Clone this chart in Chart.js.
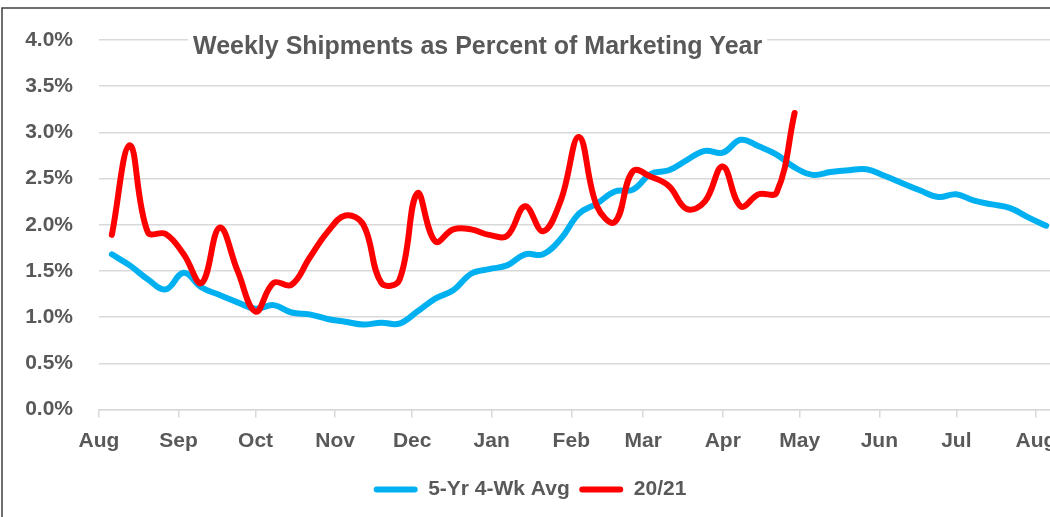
<!DOCTYPE html>
<html>
<head>
<meta charset="utf-8">
<script src="https://cdn.jsdelivr.net/npm/chart.js@4.4.1/dist/chart.umd.min.js"></script>
<style>
    html, body { margin: 0; padding: 0; background: #ffffff; overflow: hidden; }
    #grafico { display: block; }
</style>
</head>
<body>
<canvas id="grafico" width="1072" height="517"></canvas>
<script>
    // meses do eixo x (dia do ano comercial, 1 de agosto = 0)
    const monthDays = [0, 31, 61, 92, 122, 153, 184, 212, 243, 273, 304, 334, 365];
    const monthLabels = ['Aug', 'Sep', 'Oct', 'Nov', 'Dec', 'Jan', 'Feb', 'Mar', 'Apr', 'May', 'Jun', 'Jul', 'Aug'];

    // semanas terminando na quinta-feira, primeira em 6 de agosto
    const firstWeekDay = 5;

    // % do ano comercial por semana
    const avg5yr = [
        1.68, 1.56, 1.41, 1.30, 1.48, 1.32, 1.24, 1.16, 1.09, 1.13,
        1.05, 1.03, 0.98, 0.95, 0.92, 0.94, 0.93, 1.06, 1.20, 1.29,
        1.47, 1.52, 1.56, 1.68, 1.68, 1.85, 2.12, 2.23, 2.36, 2.38,
        2.55, 2.59, 2.70, 2.80, 2.78, 2.92, 2.85, 2.76, 2.62, 2.54,
        2.57, 2.59, 2.60, 2.53, 2.45, 2.37, 2.30, 2.33, 2.26, 2.22,
        2.18, 2.08, 1.99
    ];
    const cur2021 = [
        1.89, 2.86, 1.92, 1.90, 1.68, 1.37, 1.97, 1.50, 1.06, 1.37,
        1.35, 1.64, 1.92, 2.10, 2.00, 1.37, 1.40, 2.34, 1.82, 1.95,
        1.95, 1.89, 1.88, 2.20, 1.93, 2.27, 2.95, 2.20, 2.03, 2.58,
        2.52, 2.42, 2.17, 2.25, 2.63, 2.20, 2.33, 2.35, 3.21
    ];

    const toPoints = arr => arr.map((v, i) => ({ x: firstWeekDay + 7 * i, y: v }));

    const fonte = { family: '"Liberation Sans", Arial, sans-serif', size: 21, weight: 'bold' };
    const cinza = '#595959';
    const grade = '#D9D9D9';

    // título e moldura desenhados por cima
    const extras = {
        id: 'extras',
        beforeDraw(chart) {
            const ctx = chart.ctx;
            ctx.save();
            ctx.fillStyle = '#ffffff';
            ctx.fillRect(0, 0, chart.width, chart.height);
            ctx.restore();
        },
        afterDraw(chart) {
            const ctx = chart.ctx;
            ctx.save();
            ctx.font = 'bold 25px "Liberation Sans", Arial, sans-serif';
            const texto = 'Weekly Shipments as Percent of Marketing Year';
            const w = ctx.measureText(texto).width;
            ctx.fillStyle = '#ffffff';
            ctx.fillRect(188, 30, w + 10, 32);
            ctx.fillStyle = cinza;
            ctx.textBaseline = 'middle';
            ctx.fillText(texto, 193, 47);
            ctx.strokeStyle = '#404040';
            ctx.lineWidth = 1.5;
            ctx.strokeRect(2, 8, chart.width + 20, chart.height + 20);
            ctx.restore();
        }
    };

    const ctx = document.getElementById('grafico').getContext('2d');
    const grafico = new Chart(ctx, {
        type: 'line',
        data: {
            datasets: [{
                label: '5-Yr 4-Wk Avg',
                data: toPoints(avg5yr),
                borderColor: '#00B0F0',
                backgroundColor: '#00B0F0',
                borderWidth: 6,
                pointRadius: 0,
                tension: 0.4,
                borderCapStyle: 'round',
                borderJoinStyle: 'round',
                order: 2
            }, {
                label: '20/21',
                data: toPoints(cur2021),
                borderColor: '#FF0000',
                backgroundColor: '#FF0000',
                borderWidth: 6,
                pointRadius: 0,
                tension: 0.4,
                borderCapStyle: 'round',
                borderJoinStyle: 'round',
                order: 1
            }]
        },
        options: {
            responsive: false,
            devicePixelRatio: 1,
            animation: false,
            layout: { padding: { top: 40, right: 12, bottom: 7, left: 0 } },
            scales: {
                x: {
                    type: 'linear',
                    min: 0,
                    max: 374.4,
                    afterBuildTicks: scale => {
                        scale.ticks = monthDays.map(v => ({ value: v }));
                    },
                    afterFit: scale => { scale.height = 60; },
                    ticks: {
                        autoSkip: false,
                        maxRotation: 0,
                        padding: 11,
                        color: cinza,
                        font: fonte,
                        callback: (v, i) => monthLabels[i]
                    },
                    grid: {
                        drawOnChartArea: false,
                        drawTicks: true,
                        tickLength: 8,
                        color: grade,
                        lineWidth: 1.5
                    },
                    border: { display: true, color: grade, width: 1.5 }
                },
                y: {
                    min: 0,
                    max: 4,
                    afterFit: scale => { scale.width = 99; },
                    ticks: {
                        stepSize: 0.5,
                        padding: 26,
                        color: cinza,
                        font: fonte,
                        callback: v => v.toFixed(1) + '%'
                    },
                    grid: { color: grade, lineWidth: 1.5, drawTicks: false },
                    border: { display: false }
                }
            },
            plugins: {
                legend: {
                    position: 'bottom',
                    labels: {
                        boxWidth: 44,
                        boxHeight: 6,
                        padding: 9.5,
                        color: cinza,
                        font: fonte,
                        useBorderRadius: true,
                        borderRadius: 3,
                        sort: (a, b) => a.datasetIndex - b.datasetIndex,
                        generateLabels: chart => {
                            const itens = Chart.defaults.plugins.legend.labels.generateLabels(chart);
                            itens.forEach(it => { it.lineWidth = 0; });
                            return itens;
                        }
                    }
                },
                tooltip: { enabled: false }
            }
        },
        plugins: [extras]
    });
</script>
</body>
</html>
